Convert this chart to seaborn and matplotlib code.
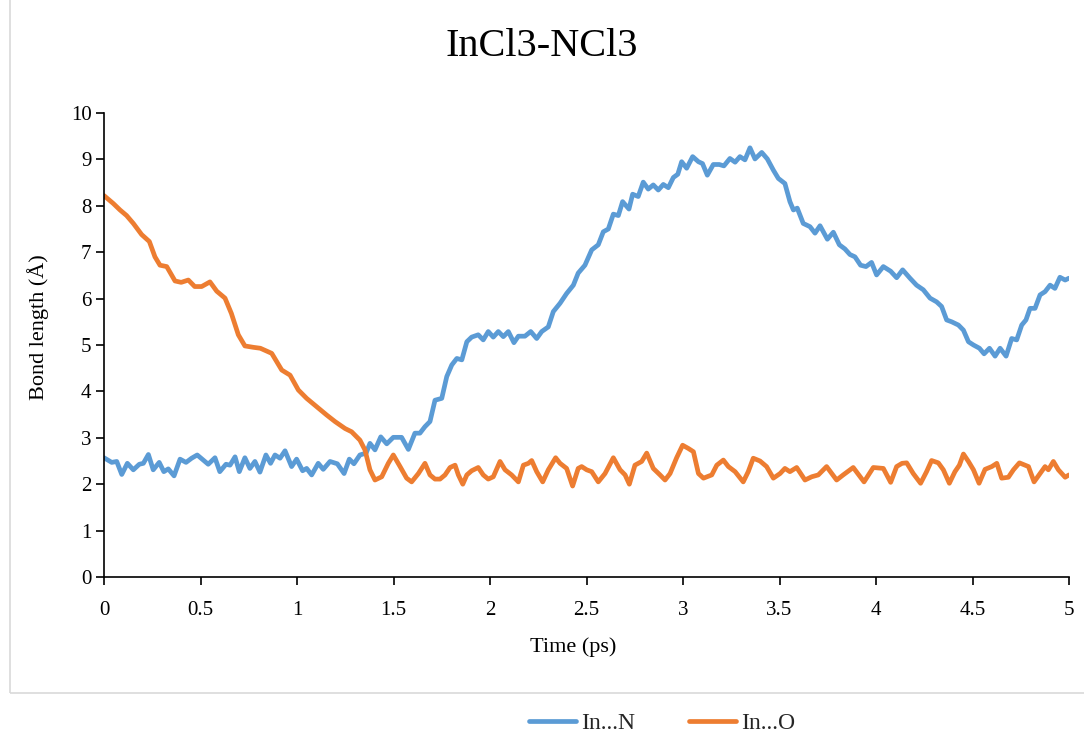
import numpy as np
import pandas as pd
import matplotlib
matplotlib.use("Agg")
import matplotlib.pyplot as plt
from matplotlib.patches import Rectangle
from matplotlib.lines import Line2D
import seaborn as sns

# ---- data ----
time_N = [0.0, 0.04, 0.066, 0.092, 0.121, 0.152, 0.183, 0.204, 0.23, 0.255, 0.286, 0.31, 0.333, 0.363,
          0.394, 0.425, 0.454, 0.483, 0.514, 0.54, 0.575, 0.60, 0.632, 0.653, 0.679, 0.701, 0.73, 0.756,
          0.782, 0.808, 0.839, 0.863, 0.886, 0.912, 0.938, 0.972, 0.998, 1.029, 1.05, 1.076, 1.11, 1.136,
          1.171, 1.209, 1.244, 1.271, 1.295, 1.326, 1.358, 1.378, 1.404, 1.434, 1.465, 1.499, 1.542, 1.577,
          1.611, 1.637, 1.663, 1.689, 1.715, 1.75, 1.776, 1.802, 1.828, 1.854, 1.88, 1.905, 1.939, 1.965,
          1.991, 2.017, 2.043, 2.069, 2.095, 2.124, 2.147, 2.181, 2.211, 2.242, 2.268, 2.302, 2.328, 2.363,
          2.397, 2.432, 2.457, 2.492, 2.527, 2.561, 2.587, 2.613, 2.639, 2.665, 2.687, 2.72, 2.739, 2.768,
          2.794, 2.82, 2.846, 2.872, 2.898, 2.924, 2.95, 2.973, 2.993, 3.019, 3.05, 3.08, 3.101, 3.126,
          3.157, 3.188, 3.212, 3.243, 3.27, 3.295, 3.321, 3.347, 3.373, 3.408, 3.437, 3.468, 3.494, 3.528,
          3.554, 3.572, 3.592, 3.623, 3.658, 3.684, 3.71, 3.748, 3.779, 3.81, 3.839, 3.865, 3.891, 3.92,
          3.948, 3.977, 4.003, 4.038, 4.076, 4.107, 4.138, 4.176, 4.21, 4.245, 4.28, 4.314, 4.34, 4.366,
          4.392, 4.427, 4.453, 4.479, 4.505, 4.536, 4.56, 4.588, 4.617, 4.643, 4.674, 4.703, 4.729, 4.755,
          4.777, 4.798, 4.824, 4.85, 4.876, 4.902, 4.927, 4.953, 4.98, 5.0]
bond_N = [2.57, 2.47, 2.49, 2.21, 2.45, 2.31, 2.43, 2.45, 2.64, 2.31, 2.47, 2.27, 2.33, 2.18,
          2.54, 2.47, 2.56, 2.63, 2.52, 2.43, 2.57, 2.27, 2.43, 2.41, 2.59, 2.27, 2.57, 2.34,
          2.49, 2.26, 2.63, 2.45, 2.63, 2.56, 2.72, 2.38, 2.54, 2.29, 2.34, 2.20, 2.45, 2.32,
          2.49, 2.44, 2.23, 2.54, 2.44, 2.63, 2.67, 2.88, 2.74, 3.02, 2.87, 3.01, 3.01, 2.75,
          3.10, 3.10, 3.24, 3.35, 3.81, 3.85, 4.32, 4.57, 4.71, 4.68, 5.07, 5.17, 5.22, 5.11,
          5.29, 5.17, 5.29, 5.18, 5.29, 5.05, 5.19, 5.19, 5.29, 5.14, 5.29, 5.39, 5.72, 5.90,
          6.11, 6.29, 6.55, 6.72, 7.05, 7.16, 7.44, 7.50, 7.82, 7.79, 8.09, 7.93, 8.25, 8.20,
          8.51, 8.36, 8.45, 8.34, 8.46, 8.39, 8.61, 8.68, 8.95, 8.81, 9.06, 8.95, 8.91, 8.66,
          8.89, 8.89, 8.86, 9.02, 8.94, 9.06, 8.99, 9.25, 9.01, 9.15, 9.01, 8.77, 8.59, 8.48,
          8.09, 7.91, 7.95, 7.62, 7.55, 7.41, 7.57, 7.28, 7.43, 7.16, 7.07, 6.95, 6.90, 6.72,
          6.69, 6.78, 6.51, 6.69, 6.59, 6.45, 6.62, 6.44, 6.29, 6.19, 6.01, 5.93, 5.83, 5.54,
          5.50, 5.43, 5.32, 5.07, 5.00, 4.93, 4.81, 4.93, 4.76, 4.93, 4.76, 5.14, 5.11, 5.43,
          5.54, 5.79, 5.79, 6.08, 6.15, 6.29, 6.22, 6.46, 6.40, 6.44]

time_O = [0.0, 0.048, 0.083, 0.117, 0.152, 0.195, 0.235, 0.264, 0.29, 0.325, 0.368, 0.40, 0.437, 0.47,
          0.506, 0.549, 0.584, 0.627, 0.66, 0.696, 0.73, 0.774, 0.81, 0.869, 0.921, 0.964, 1.007, 1.05,
          1.102, 1.154, 1.197, 1.249, 1.283, 1.326, 1.352, 1.378, 1.404, 1.439, 1.473, 1.499, 1.534, 1.568,
          1.594, 1.629, 1.663, 1.689, 1.715, 1.741, 1.767, 1.793, 1.819, 1.836, 1.859, 1.88, 1.905, 1.939,
          1.965, 1.991, 2.017, 2.052, 2.078, 2.112, 2.147, 2.173, 2.199, 2.216, 2.242, 2.273, 2.302, 2.34,
          2.363, 2.397, 2.428, 2.457, 2.475, 2.501, 2.527, 2.561, 2.596, 2.639, 2.674, 2.70, 2.722, 2.751,
          2.786, 2.812, 2.846, 2.881, 2.907, 2.933, 2.967, 2.998, 3.028, 3.054, 3.08, 3.106, 3.149, 3.175,
          3.209, 3.235, 3.27, 3.312, 3.338, 3.364, 3.399, 3.433, 3.468, 3.503, 3.528, 3.554, 3.589, 3.632,
          3.667, 3.701, 3.744, 3.796, 3.83, 3.882, 3.938, 3.986, 4.038, 4.076, 4.107, 4.135, 4.159, 4.193,
          4.231, 4.262, 4.288, 4.323, 4.349, 4.38, 4.409, 4.432, 4.453, 4.479, 4.505, 4.534, 4.565, 4.60,
          4.626, 4.651, 4.686, 4.712, 4.743, 4.772, 4.79, 4.819, 4.85, 4.876, 4.893, 4.919, 4.945, 4.98, 5.0]
bond_O = [8.22, 8.05, 7.91, 7.79, 7.62, 7.38, 7.23, 6.90, 6.72, 6.69, 6.38, 6.35, 6.40, 6.26,
          6.26, 6.36, 6.16, 6.01, 5.68, 5.22, 4.98, 4.95, 4.93, 4.82, 4.46, 4.35, 4.03, 3.85,
          3.67, 3.49, 3.35, 3.20, 3.13, 2.95, 2.74, 2.31, 2.09, 2.16, 2.45, 2.63, 2.38, 2.13,
          2.05, 2.23, 2.45, 2.20, 2.11, 2.11, 2.20, 2.36, 2.41, 2.20, 2.00, 2.20, 2.29, 2.36,
          2.20, 2.11, 2.16, 2.49, 2.31, 2.20, 2.05, 2.41, 2.45, 2.51, 2.27, 2.05, 2.31, 2.57,
          2.45, 2.34, 1.96, 2.34, 2.38, 2.31, 2.27, 2.05, 2.23, 2.57, 2.31, 2.20, 2.00, 2.41,
          2.49, 2.67, 2.34, 2.20, 2.09, 2.23, 2.57, 2.84, 2.77, 2.70, 2.23, 2.13, 2.20, 2.41,
          2.52, 2.38, 2.27, 2.05, 2.27, 2.56, 2.50, 2.38, 2.13, 2.23, 2.34, 2.27, 2.36, 2.09,
          2.16, 2.20, 2.38, 2.09, 2.20, 2.36, 2.05, 2.36, 2.34, 2.04, 2.38, 2.45, 2.46, 2.23,
          2.02, 2.27, 2.51, 2.46, 2.31, 2.02, 2.27, 2.41, 2.65, 2.49, 2.31, 2.02, 2.32, 2.38,
          2.45, 2.13, 2.15, 2.31, 2.46, 2.41, 2.38, 2.05, 2.23, 2.38, 2.31, 2.49, 2.31, 2.15, 2.20]

series_names = ["In...N", "In...O"]
x_ticks = [0, 0.5, 1, 1.5, 2, 2.5, 3, 3.5, 4, 4.5, 5]
x_tick_labels = ["0", "0.5", "1", "1.5", "2", "2.5", "3", "3.5", "4", "4.5", "5"]
y_ticks = list(range(0, 11))

df = pd.concat([
    pd.DataFrame({"Time": time_N, "Bond": bond_N, "Series": series_names[0]}),
    pd.DataFrame({"Time": time_O, "Bond": bond_O, "Series": series_names[1]}),
])

sns.set_theme(style="white")
plt.rcParams['font.family'] = ['Liberation Serif', 'DejaVu Serif']

W, H = 1084, 736
fig = plt.figure(figsize=(W / 100, H / 100), dpi=100)
fig.patch.set_facecolor("white")

# chart-area border
fig.patches.append(Rectangle((10 / W, 1 - 693 / H), 1.2, 1.2, transform=fig.transFigure,
                             fill=False, edgecolor="#d9d9d9", linewidth=1.2))

ax = fig.add_axes([104 / W, 1 - 577 / H, (1069 - 104) / W, (577 - 113) / H])
palette = {"In...N": "#5B9BD5", "In...O": "#ED7D31"}
sns.lineplot(data=df, x="Time", y="Bond", hue="Series", palette=palette, ax=ax,
             linewidth=3.4, sort=False, estimator=None, legend=False,
             solid_joinstyle="round", solid_capstyle="round")

ax.set_xlim(0, 5)
ax.set_ylim(0, 10)
ax.set_xticks(x_ticks)
ax.set_xticklabels(x_tick_labels)
ax.set_yticks(y_ticks)
for s in ["top", "right"]:
    ax.spines[s].set_visible(False)
for s in ["left", "bottom"]:
    ax.spines[s].set_color("#000000")
    ax.spines[s].set_linewidth(1.2)
ax.tick_params(axis="both", which="major", direction="out", length=6, width=1.2,
               color="#000000", labelsize=15, labelcolor="#000000",
               bottom=True, left=True)
ax.tick_params(axis="x", pad=11)
ax.tick_params(axis="y", pad=3)
ax.set_xlabel("Time (ps)", fontsize=16, color="#000000")
ax.xaxis.set_label_coords((573 - 104) / 965, (577 - 637) / 464)
ax.set_ylabel("Bond length (Å)", fontsize=16, color="#000000")
ax.yaxis.set_label_coords((49 - 104) / 965, (577 - 327) / 464)
ax.grid(False)

fig.text(542 / W, 1 - 47 / H, "InCl3-NCl3", fontsize=29, color="#000000",
         ha="center", va="center")

handles = [Line2D([0], [0], color=palette[n], linewidth=3.4) for n in series_names]
fig.legend(handles, series_names, loc="center", bbox_to_anchor=(662 / W, 13 / H), ncol=2,
           frameon=False, fontsize=17, handlelength=2.0, columnspacing=2.3, handletextpad=0.2)

fig.savefig("out.png", dpi=100, facecolor="white")
